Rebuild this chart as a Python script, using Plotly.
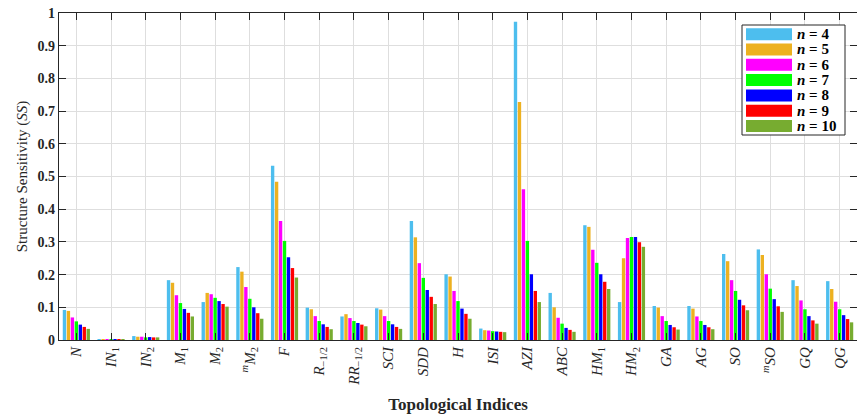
import plotly.graph_objects as go

categories = [
    "<i>N</i>", "<i>IN</i><sub>1</sub>", "<i>IN</i><sub>2</sub>", "<i>M</i><sub>1</sub>",
    "<i>M</i><sub>2</sub>", "<sup><i>m</i></sup><i>M</i><sub>2</sub>", "<i>F</i>",
    "<i>R</i><sub>−1/2</sub>", "<i>RR</i><sub>−1/2</sub>", "<i>SCI</i>", "<i>SDD</i>",
    "<i>H</i>", "<i>ISI</i>", "<i>AZI</i>", "<i>ABC</i>", "<i>HM</i><sub>1</sub>",
    "<i>HM</i><sub>2</sub>", "<i>GA</i>", "<i>AG</i>", "<i>SO</i>",
    "<sup><i>m</i></sup><i>SO</i>", "<i>GQ</i>", "<i>QG</i>",
]

n_values = [4, 5, 6, 7, 8, 9, 10]

# one list per n; entries follow categories
ss_n4 = [0.092, 0.002, 0.012, 0.183, 0.116, 0.223, 0.533, 0.099, 0.072, 0.097, 0.364,
         0.201, 0.035, 0.973, 0.144, 0.351, 0.116, 0.104, 0.104, 0.263, 0.277, 0.183, 0.180]
ss_n5 = [0.089, 0.002, 0.010, 0.175, 0.144, 0.209, 0.484, 0.094, 0.079, 0.093, 0.314,
         0.194, 0.030, 0.728, 0.100, 0.346, 0.250, 0.099, 0.096, 0.241, 0.260, 0.165, 0.156]
ss_n6 = [0.069, 0.002, 0.010, 0.137, 0.140, 0.162, 0.364, 0.073, 0.067, 0.073, 0.235,
         0.150, 0.029, 0.461, 0.068, 0.276, 0.312, 0.073, 0.072, 0.183, 0.201, 0.121, 0.117]
ss_n7 = [0.057, 0.001, 0.008, 0.113, 0.129, 0.126, 0.303, 0.058, 0.058, 0.058, 0.190,
         0.119, 0.027, 0.303, 0.050, 0.236, 0.315, 0.058, 0.058, 0.150, 0.157, 0.094, 0.094]
ss_n8 = [0.047, 0.001, 0.009, 0.095, 0.119, 0.100, 0.253, 0.048, 0.052, 0.048, 0.153,
         0.096, 0.026, 0.201, 0.037, 0.201, 0.315, 0.046, 0.046, 0.123, 0.125, 0.073, 0.076]
ss_n9 = [0.040, 0.001, 0.008, 0.083, 0.110, 0.082, 0.220, 0.040, 0.047, 0.040, 0.132,
         0.080, 0.025, 0.150, 0.031, 0.178, 0.299, 0.039, 0.039, 0.106, 0.103, 0.060, 0.064]
ss_n10 = [0.034, 0.001, 0.008, 0.072, 0.102, 0.065, 0.191, 0.033, 0.042, 0.034, 0.110,
          0.065, 0.024, 0.116, 0.025, 0.156, 0.285, 0.032, 0.033, 0.091, 0.086, 0.050, 0.054]

series = [ss_n4, ss_n5, ss_n6, ss_n7, ss_n8, ss_n9, ss_n10]
colors = ["#4DBEEE", "#EDB120", "#FF00FF", "#00FF00", "#0000FF", "#FF0000", "#77AC30"]

y_ticks = [0, 0.1, 0.2, 0.3, 0.4, 0.5, 0.6, 0.7, 0.8, 0.9, 1]
y_tick_text = ["0", "0.1", "0.2", "0.3", "0.4", "0.5", "0.6", "0.7", "0.8", "0.9", "1"]

SERIF = "Liberation Serif, Times New Roman, serif"
AXC = "#262626"

W, H = 857, 414
ML, MR, MT, MB = 59, 0, 13, 74
PW, PH = W - ML - MR, H - MT - MB


def px_x(p):
    return (p - ML) / PW


def px_y(p):
    return (H - MB - p) / PH


fig = go.Figure()
x_pos = list(range(1, len(categories) + 1))
for n, vals, col in zip(n_values, series, colors):
    fig.add_trace(go.Bar(
        x=x_pos, y=vals, name=f"n = {n}", showlegend=False,
        marker=dict(color=col, line=dict(width=0)),
    ))

# legend drawn as a boxed key in the top-right corner
shapes = [dict(type="rect", xref="paper", yref="paper",
               x0=px_x(742), x1=px_x(845), y0=px_y(135), y1=px_y(25),
               fillcolor="white", line=dict(color=AXC, width=1), layer="above")]
annotations = []
for i, (n, col) in enumerate(zip(n_values, colors)):
    cy = 34.2 + 15.3 * i
    shapes.append(dict(type="rect", xref="paper", yref="paper",
                       x0=px_x(746), x1=px_x(792), y0=px_y(cy + 6), y1=px_y(cy - 6),
                       fillcolor=col, line=dict(width=0), layer="above"))
    annotations.append(dict(xref="paper", yref="paper", x=px_x(795), y=px_y(cy),
                            xanchor="left", yanchor="middle", showarrow=False,
                            text=f"<b><i>n</i> = {n}</b>",
                            font=dict(family=SERIF, size=15, color="black")))

fig.update_layout(
    width=W, height=H, autosize=False,
    margin=dict(l=ML, r=MR, t=MT, b=MB),
    paper_bgcolor="white", plot_bgcolor="white",
    barmode="group", bargap=0.2, bargroupgap=0.15,
    font=dict(family=SERIF, color=AXC, size=13),
    showlegend=False,
    shapes=shapes, annotations=annotations,
    xaxis=dict(
        range=[0.5, len(categories) + 0.5],
        tickmode="array", tickvals=x_pos, ticktext=categories,
        tickangle=-90, tickfont=dict(family=SERIF, size=15, color=AXC),
        ticks="inside", ticklen=7, tickwidth=1.2, tickcolor=AXC,
        showline=True, linecolor=AXC, linewidth=1.2, mirror="ticks",
        showgrid=True, gridcolor="#dedede", gridwidth=1,
        zeroline=False,
        title=dict(text="<b>Topological Indices</b>", font=dict(family=SERIF, size=17, color=AXC), standoff=13),
    ),
    yaxis=dict(
        range=[0, 1],
        tickmode="array", tickvals=y_ticks, ticktext=[f"<b>{t}</b>" for t in y_tick_text],
        tickfont=dict(family=SERIF, size=14, color=AXC),
        ticks="inside", ticklen=7, tickwidth=1.2, tickcolor=AXC,
        showline=True, linecolor=AXC, linewidth=1.2, mirror="ticks",
        showgrid=True, gridcolor="#dedede", gridwidth=1,
        zeroline=False,
        title=dict(text="Structure Sensitivity (<i>SS</i>)", font=dict(family=SERIF, size=15, color=AXC), standoff=6),
    ),
)

fig.write_html("out.html")
